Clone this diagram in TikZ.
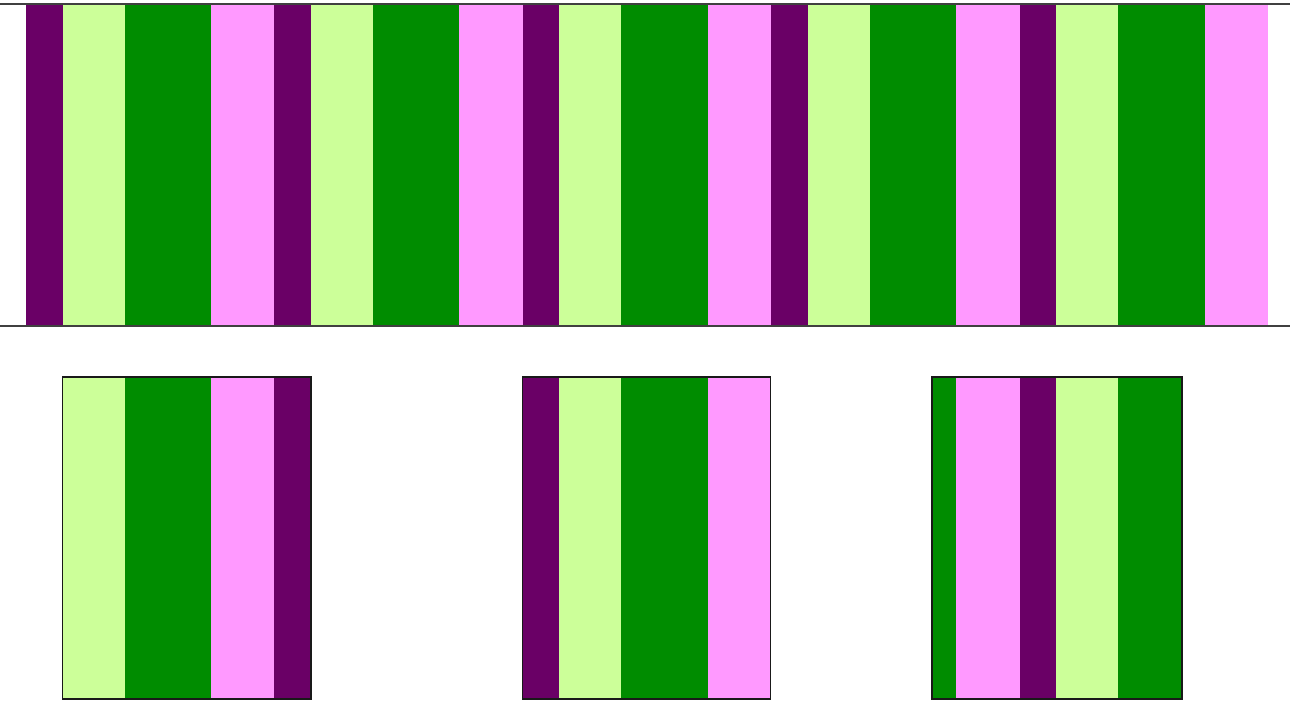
\documentclass[tikz,border=0pt]{standalone}
\usetikzlibrary{positioning}

\definecolor{plum}{HTML}{6A0066}
\definecolor{lime}{HTML}{CCFF99}
\definecolor{leaf}{HTML}{008C00}
\definecolor{rose}{HTML}{FF99FF}

% one row of stripes between y=#1 and y=#2
\newcommand{\stripes}[2]{%
  \foreach \i in {0,...,4} {
    \pgfmathsetmacro{\xo}{26+248.4*\i}
    \fill[plum] (\xo,#1) rectangle ++(36.5,#2-#1);
    \fill[lime] (\xo+36.5,#1) rectangle ++(62,#2-#1);
    \fill[leaf] (\xo+98.5,#1) rectangle ++(86.5,#2-#1);
    \fill[rose] (\xo+185,#1) rectangle ++(63.4,#2-#1);
  }}

\begin{document}
\begin{tikzpicture}[
    x=1pt, y=-1pt,
    rail/.style={draw=black!75, line width=1.4pt},
    frame/.style={draw=black!90, line width=1.4pt}
]
\useasboundingbox (0,0) rectangle (1290,702);
\fill[white] (0,0) rectangle (1290,702);

% Top: long strip
\stripes{4}{326}
\draw[rail] (0,4) -- (1290,4);
\draw[rail] (0,326) -- (1290,326);

% Bottom: three windows on the same strip
\foreach \l/\r in {62.5/311, 522.5/770.5, 932/1182} {
  \begin{scope}
    \clip (\l,377) rectangle (\r,699);
    \stripes{377}{699}
  \end{scope}
  \draw[frame] (\l,377) rectangle (\r,699);
}

\end{tikzpicture}
\end{document}
